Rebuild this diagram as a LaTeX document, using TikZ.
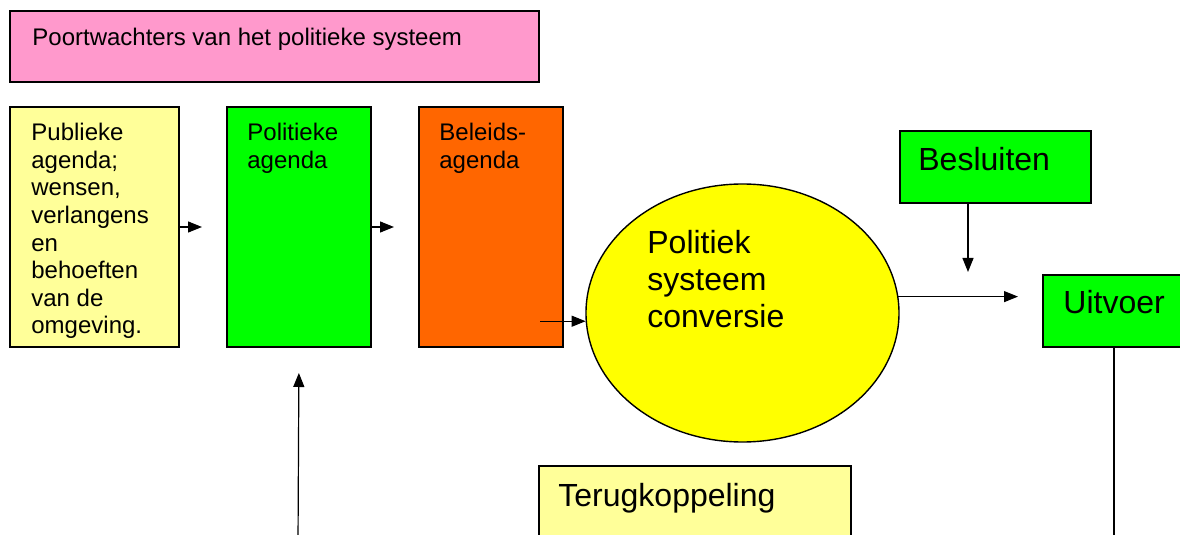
\documentclass[tikz,border=0pt]{standalone}
\usepackage{fontspec}
\setmainfont{Liberation Sans}
\usepackage{xcolor}
\usetikzlibrary{arrows.meta}
\usetikzlibrary{calc}
\usetikzlibrary{shapes}
\usetikzlibrary{positioning}

\definecolor{roze}{HTML}{FF99CC}
\definecolor{lichtgeel}{HTML}{FFFF99}
\definecolor{groen}{HTML}{00FF00}
\definecolor{oranje}{HTML}{FF6600}
\definecolor{geel}{HTML}{FFFF00}

\begin{document}
\begin{tikzpicture}[x=0.5pt, y=-0.5pt,
    vak/.style={draw, line width=1pt, anchor=north west, inner sep=0pt},
    tekst/.style={anchor=north west, inner sep=0pt, align=left, font=\fontsize{12}{13.8}\selectfont},
    groot/.style={anchor=north west, inner sep=0pt, align=left, font=\fontsize{16}{18.6}\selectfont},
    pijl/.style={-{Triangle[length=7pt, width=5.5pt]}, line width=0.6pt}]
            \useasboundingbox (0,0) rectangle (1180,535);
            \clip (0,0) rectangle (1180,535);

            % vakken
            \draw (9,10) node[vak, fill=roze, minimum width=264.5pt, minimum height=35.5pt]         (poort) {};
            \draw (9,106) node[vak, fill=lichtgeel, minimum width=84.5pt, minimum height=120pt]    (pub) {};
            \draw (226,106) node[vak, fill=groen, minimum width=72pt, minimum height=120pt]        (pol) {};
            \draw (418,106) node[vak, fill=oranje, minimum width=72pt, minimum height=120pt]       (bel) {};
            \draw (742.5,313) node[draw, ellipse, fill=geel, line width=0.7pt, inner sep=0pt,
                                   minimum width=156.5pt, minimum height=129pt]                  (conv) {};
            \draw (899,130) node[vak, fill=groen, minimum width=95.5pt, minimum height=36pt]       (bes) {};
            \draw (1042,274) node[vak, fill=groen, minimum width=80pt, minimum height=36pt]        (uit) {};
            \draw (538,465) node[vak, fill=lichtgeel, minimum width=156pt, minimum height=50pt]    (terug) {};

            % teksten
            \draw (32,28) node[tekst] (tpoort) {Poortwachters van het politieke systeem};
            \draw (31,123) node[tekst] (tpub) {Publieke\\agenda;\\wensen,\\verlangens\\en\\behoeften\\van de\\omgeving.};
            \draw (247,123) node[tekst] (tpol) {Politieke\\agenda};
            \draw (439,123) node[tekst] (tbel) {Beleids-\\agenda};
            \draw (647,230) node[groot] (tconv) {Politiek\\systeem\\conversie};
            \draw (918,147) node[groot] (tbes) {Besluiten};
            \draw (1063,290) node[groot] (tuit) {Uitvoer};
            \draw (558,483) node[groot] (tterug) {Terugkoppeling};

            % pijlen
            \coordinate (onder1) at (298,545);
            \coordinate (onder2) at (1114,545);
            \draw[pijl, shorten >=12pt] (pub.east) -- (pol.west);
            \draw[pijl, shorten >=12pt] (pol.east) -- (bel.west);
            \draw[pijl] ($(conv.183 -| bel.east)+(-24,0)$) -- (conv.183);
            \draw[pijl, shorten >=12pt] (conv.6) -- (conv.6 -| uit.west);
            \draw[pijl, shorten >=1pt] ([xshift=-13.75pt]bes.south) -- ([xshift=-13.75pt]bes.south |- uit.north);
            \draw[line width=0.6pt] (uit.south -| onder2) -- (onder2);
            \draw[pijl, shorten >=12.5pt] (onder1) -- (pol.south);

            \end{tikzpicture}
\end{document}
